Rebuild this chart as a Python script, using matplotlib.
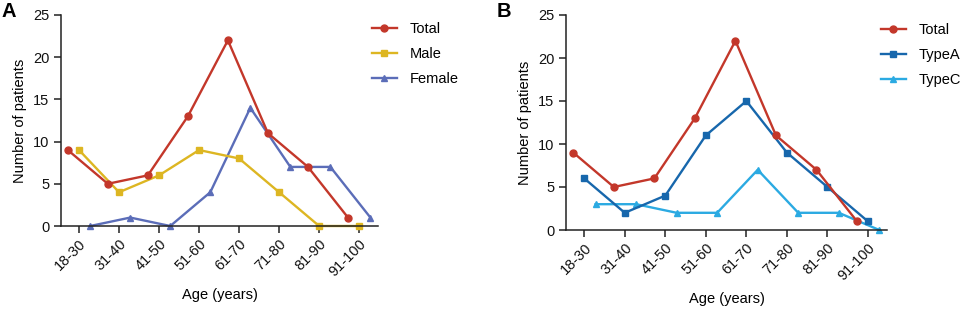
import matplotlib
matplotlib.use("Agg")
import matplotlib.pyplot as plt
import numpy as np

plt.rcParams['font.family'] = ['Liberation Sans', 'DejaVu Sans']

ages = ['18-30', '31-40', '41-50', '51-60', '61-70', '71-80', '81-90', '91-100']
total = [9, 5, 6, 13, 22, 11, 7, 1]
male = [9, 4, 6, 9, 8, 4, 0, 0]
female = [0, 1, 0, 4, 14, 7, 7, 1]
type_a = [6, 2, 4, 11, 15, 9, 5, 1]
type_c = [3, 3, 2, 2, 7, 2, 2, 0]

RED = '#C3372A'
YELLOW = '#DDB622'
PURPLE = '#5B6DB8'
DBLUE = '#1767AC'
LBLUE = '#2BAAE2'
AXC = '#222222'

W, H = 962, 309
fig = plt.figure(figsize=(W / 100, H / 100), dpi=100)


def px_axes(x0, x1, ytop, ybot):
    return fig.add_axes([x0 / W, 1 - ybot / H, (x1 - x0) / W, (ybot - ytop) / H])


def style(ax):
    for s in ['top', 'right']:
        ax.spines[s].set_visible(False)
    for s in ['left', 'bottom']:
        ax.spines[s].set_color(AXC)
        ax.spines[s].set_linewidth(1.1)
    ax.set_ylim(0, 25)
    ax.set_yticks([0, 5, 10, 15, 20, 25])
    ax.set_xlim(-0.45, 7.47)
    ax.set_xticks(np.arange(len(ages)))
    ax.set_xticklabels(ages, rotation=45, ha='right', rotation_mode='anchor')
    ax.tick_params(axis='both', direction='out', length=5, width=1.1, color=AXC,
                   labelsize=10.5, labelcolor='#111111')
    ax.tick_params(axis='x', pad=3)
    ax.set_ylabel('Number of patients', fontsize=10.5, labelpad=4)
    ax.set_xlabel('Age (years)', fontsize=10.5, labelpad=6)
    ax.margins(0)


x = np.arange(len(ages))
lw = 1.7
ms = 5

# panel A
ax1 = px_axes(61, 378, 15, 226)
ax1.plot(x + 0.28, female, color=PURPLE, marker='^', lw=lw, ms=ms, label='Female', clip_on=False)
ax1.plot(x, male, color=YELLOW, marker='s', lw=lw, ms=ms, label='Male', clip_on=False)
ax1.plot(x - 0.28, total, color=RED, marker='o', lw=lw, ms=ms, label='Total', clip_on=False)
style(ax1)
h, l = ax1.get_legend_handles_labels()
ax1.legend(h[::-1], l[::-1], loc='upper left', bbox_to_anchor=(372 / W, 1 - 22 / H),
           bbox_transform=fig.transFigure, frameon=False, fontsize=10.5,
           handlelength=1.7, handletextpad=0.9, labelspacing=0.75, borderpad=0, borderaxespad=0)

# panel B
ax2 = px_axes(566, 887, 15, 230)
ax2.plot(x + 0.28, type_c, color=LBLUE, marker='^', lw=lw, ms=ms, label='TypeC', clip_on=False)
ax2.plot(x, type_a, color=DBLUE, marker='s', lw=lw, ms=ms, label='TypeA', clip_on=False)
ax2.plot(x - 0.27, total, color=RED, marker='o', lw=lw, ms=ms, label='Total', clip_on=False)
style(ax2)
h, l = ax2.get_legend_handles_labels()
ax2.legend(h[::-1], l[::-1], loc='upper left', bbox_to_anchor=(881 / W, 1 - 23 / H),
           bbox_transform=fig.transFigure, frameon=False, fontsize=10.5,
           handlelength=1.7, handletextpad=0.9, labelspacing=0.75, borderpad=0, borderaxespad=0)

fig.text(2 / W, 1 - 2 / H, 'A', fontsize=14.5, fontweight='bold', va='top', ha='left')
fig.text(497 / W, 1 - 2 / H, 'B', fontsize=14.5, fontweight='bold', va='top', ha='left')

fig.savefig('out.png', dpi=100)
